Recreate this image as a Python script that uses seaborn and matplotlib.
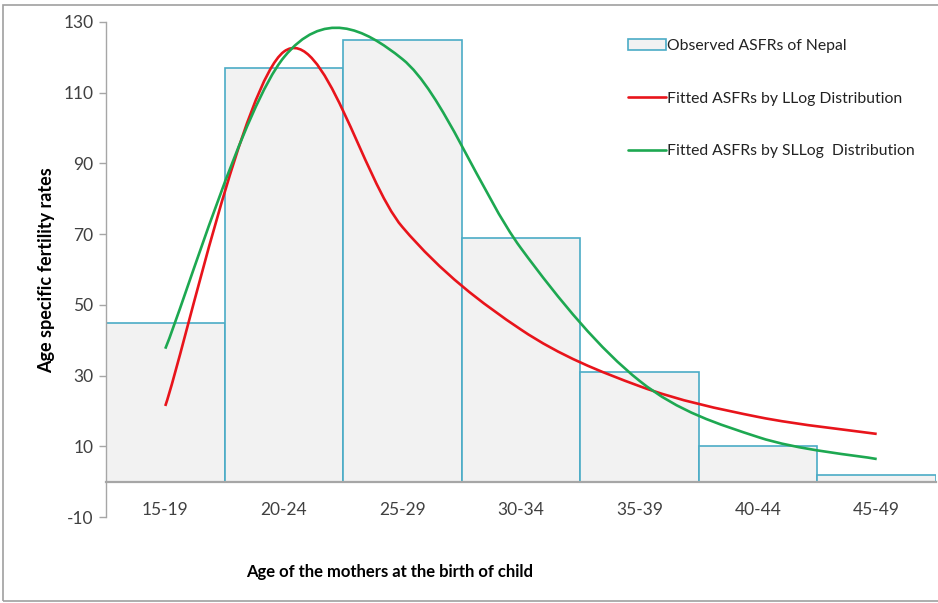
import numpy as np
import pandas as pd
import matplotlib
matplotlib.use("Agg")
import matplotlib.pyplot as plt
import seaborn as sns
from matplotlib.path import Path
from matplotlib.patches import PathPatch, Rectangle
from matplotlib.lines import Line2D

# ---- data ----
age_groups = ["15-19", "20-24", "25-29", "30-34", "35-39", "40-44", "45-49"]
observed = [45, 117, 125, 69, 31, 10, 2]
fitted_llog = [21.4, 121.6, 72.0, 43.0, 27.0, 18.3, 13.5]
fitted_sllog = [37.6, 120.0, 119.5, 66.0, 28.5, 12.6, 6.4]
y_ticks = [-10, 10, 30, 50, 70, 90, 110, 130]

sns.set_theme(style="white")
plt.rcParams["font.family"] = ["Lato", "DejaVu Sans"]

fig = plt.figure(figsize=(9.38, 6.03), dpi=100)
ax = fig.add_axes([106/938, 1-517/603, (936-106)/938, (517-22)/603])

df = pd.DataFrame({"age": age_groups, "asfr": observed})
sns.barplot(data=df, x="age", y="asfr", ax=ax, width=1.0,
            color="#F2F2F2", edgecolor="#4BACC6", linewidth=1.2,
            saturation=1)


def smooth_path(xs, ys):
    # Excel-style smoothed line as cubic Bezier segments through the points
    pts = np.column_stack([xs, ys]).astype(float)
    n = len(pts)
    verts = [tuple(pts[0])]
    codes = [Path.MOVETO]
    for i in range(n - 1):
        p0 = pts[i - 1] if i > 0 else pts[i]
        p1 = pts[i]
        p2 = pts[i + 1]
        p3 = pts[i + 2] if i + 2 < n else pts[i + 1]
        c1 = p1 + (p2 - p0) / 6.0
        c2 = p2 - (p3 - p1) / 6.0
        verts += [tuple(c1), tuple(c2), tuple(p2)]
        codes += [Path.CURVE4] * 3
    return Path(verts, codes)


xpos = np.arange(len(age_groups))
red = "#E8141B"
green = "#1DA851"
ax.add_patch(PathPatch(smooth_path(xpos, fitted_llog), fill=False,
                       edgecolor=red, linewidth=1.9, zorder=4))
ax.add_patch(PathPatch(smooth_path(xpos, fitted_sllog), fill=False,
                       edgecolor=green, linewidth=1.9, zorder=5))

ax.set_xlim(-0.5, 6.5)
ax.set_ylim(-10, 130)
ax.set_yticks(y_ticks)
ax.set_yticklabels([str(t) for t in y_ticks])

for s in ["top", "right"]:
    ax.spines[s].set_visible(False)
ax.spines["left"].set_color("#A6A6A6")
ax.spines["left"].set_linewidth(1.0)
ax.spines["bottom"].set_position(("data", 0))
ax.spines["bottom"].set_color("#A6A6A6")
ax.spines["bottom"].set_linewidth(1.6)
ax.spines["bottom"].set_zorder(6)

ax.tick_params(axis="y", left=True, length=5, width=1, color="#A6A6A6",
               labelsize=12.5, labelcolor="#404040", pad=4)
ax.tick_params(axis="x", bottom=False, labelsize=12.5, labelcolor="#404040",
               pad=9)
for lbl in ax.get_xticklabels():
    lbl.set_va("top")
ax.set_xlabel("")
ax.set_ylabel("")

fig.text(390/938, 1-572/603, "Age of the mothers at the birth of child",
         ha="center", va="center", fontsize=12, fontweight="bold",
         color="#000000")
fig.text(47/938, 1-270/603, "Age specific fertility rates", rotation=90,
         ha="center", va="center", fontsize=13, fontweight="bold",
         color="#000000")

handles = [Rectangle((0, 0), 1, 1, facecolor="#F2F2F2", edgecolor="#4BACC6",
                     linewidth=1.2),
           Line2D([], [], color=red, linewidth=1.9),
           Line2D([], [], color=green, linewidth=1.9)]
labels = ["Observed ASFRs of Nepal", "Fitted ASFRs by LLog Distribution",
          "Fitted ASFRs by SLLog  Distribution"]
leg = fig.legend(handles, labels, loc="upper left",
                 bbox_to_anchor=(614/938, 1-25/603), frameon=False,
                 fontsize=11.3, labelspacing=2.45, handlelength=2.4,
                 handletextpad=0.1, labelcolor="#222222")

# light border around the chart
fig.add_artist(Rectangle((3/938, 2/603), 940/938, 596/603,
                         transform=fig.transFigure, fill=False,
                         edgecolor="#A0A0A0", linewidth=1.2))

fig.savefig("out.png", dpi=100, facecolor="white")
